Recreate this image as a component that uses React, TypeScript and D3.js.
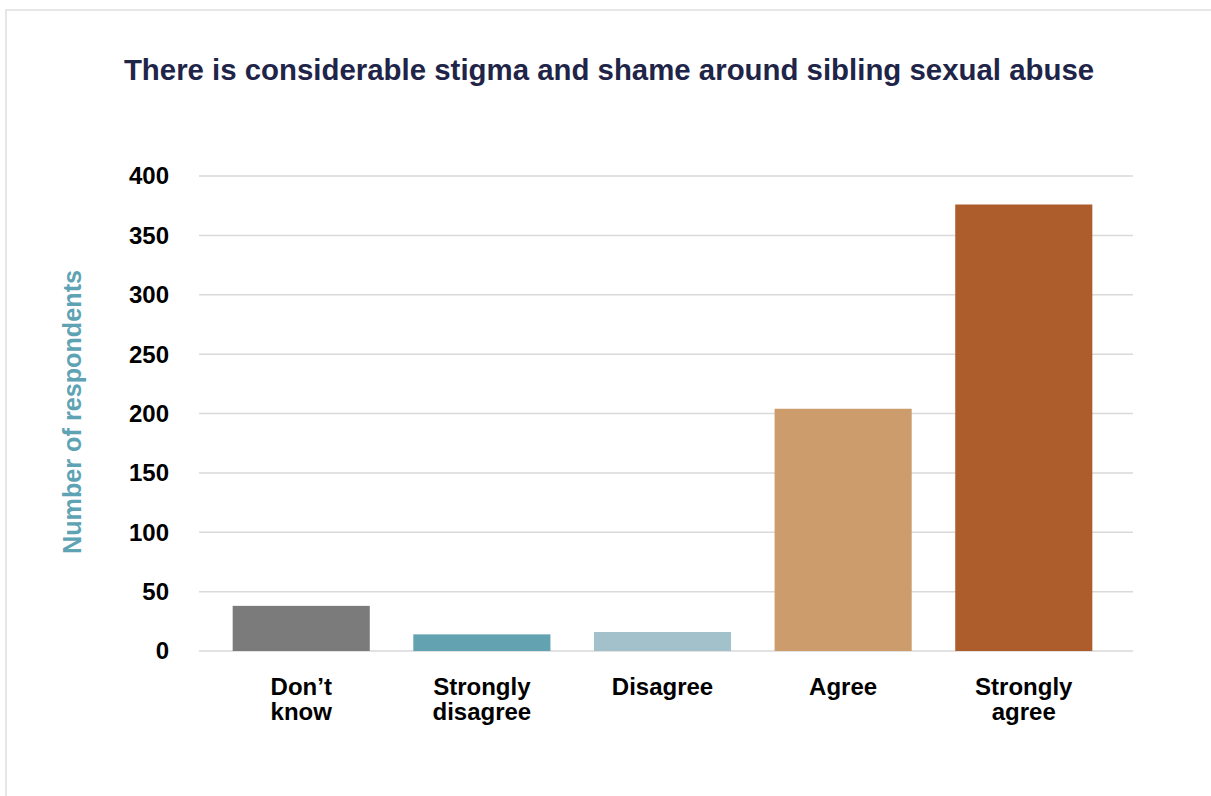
import React from "react";
import * as d3 from "d3";

const categories: string[][] = [["Don’t", "know"], ["Strongly", "disagree"], ["Disagree"], ["Agree"], ["Strongly", "agree"]];
const values: number[] = [38, 14, 16, 204, 376];
const colors: string[] = ["#7b7b7b", "#62a2b1", "#a2c1cb", "#cc9c6c", "#ad5c2b"];
const yTicks: number[] = [0, 50, 100, 150, 200, 250, 300, 350, 400];
const title = "There is considerable stigma and shame around sibling sexual abuse";
const yLabel = "Number of respondents";

const W = 1211, H = 796;
const font = "'Liberation Sans', Arial, Helvetica, sans-serif";

export default function App() {
  const x = d3.scaleBand<number>().domain(d3.range(values.length)).range([211, 1114]).paddingInner(0.241).paddingOuter(0.12);
  const y = d3.scaleLinear().domain([0, 400]).range([651, 176]);
  return (
    <svg width={W} height={H} style={{ position: "absolute", left: 0, top: 0 }} fontFamily={font}>
      <rect x={0} y={0} width={W} height={H} fill="#fff" />
      <rect x={6} y={10} width={W + 20} height={H + 20} fill="none" stroke="#e6e6e6" strokeWidth={2} />
      <text x={609} y={80} textAnchor="middle" fontSize={29.4} fontWeight="bold" fill="#1f2548">{title}</text>
      {yTicks.map((t) => (
        <g key={t}>
          <line x1={199} x2={1133} y1={y(t)} y2={y(t)} stroke="#d9d9d9" strokeWidth={1.5} />
          <text x={169} y={y(t)} dy="0.35em" textAnchor="end" fontSize={24} fontWeight="bold" fill="#000">{t}</text>
        </g>
      ))}
      {values.map((v, i) => (
        <rect key={i} x={x(i)} y={y(v)} width={x.bandwidth()} height={y(0) - y(v)} fill={colors[i]} />
      ))}
      {categories.map((lines, i) => (
        <text key={i} x={(x(i) as number) + x.bandwidth() / 2} y={695} textAnchor="middle" fontSize={24} fontWeight="bold" fill="#000">
          {lines.map((l, j) => (
            <tspan key={j} x={(x(i) as number) + x.bandwidth() / 2} dy={j === 0 ? 0 : 24.5}>{l}</tspan>
          ))}
        </text>
      ))}
      <text transform={`translate(81,412) rotate(-90)`} textAnchor="middle" fontSize={25.2} fontWeight="bold" fill="#5ea3b4">{yLabel}</text>
    </svg>
  );
}
